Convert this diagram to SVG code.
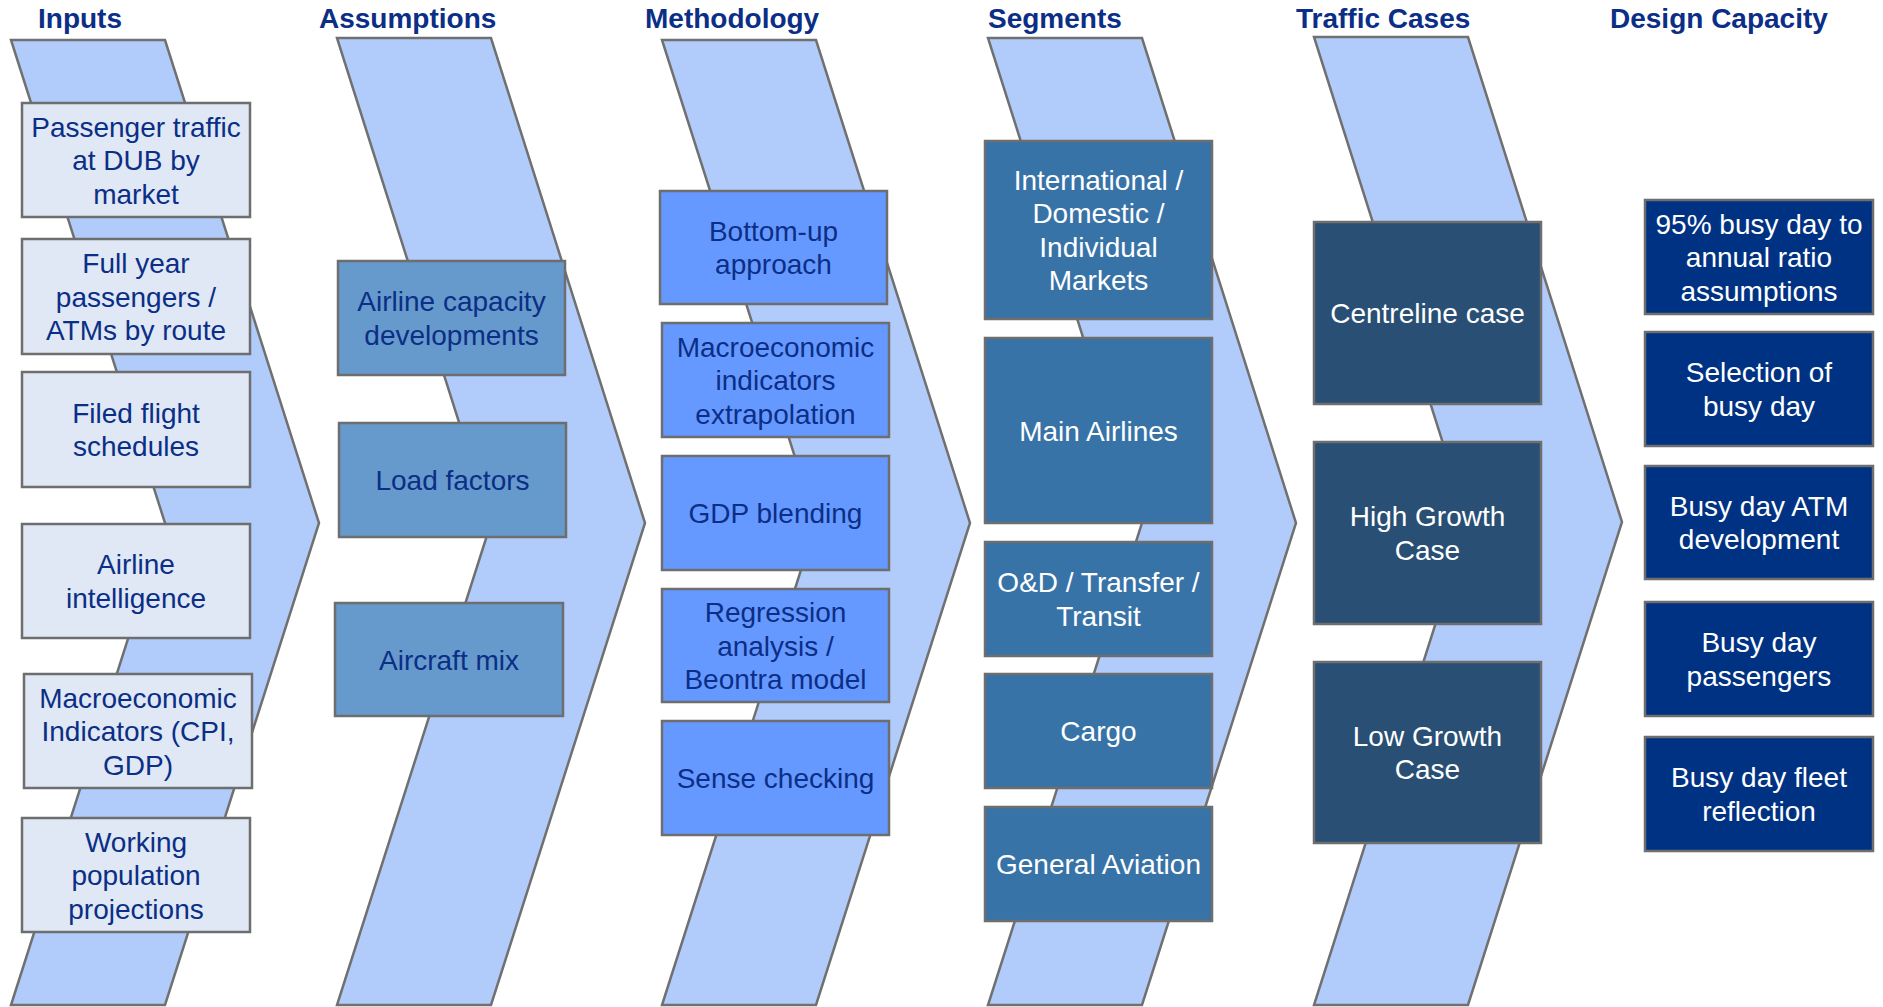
<svg xmlns="http://www.w3.org/2000/svg" width="1883" height="1007" viewBox="0 0 1883 1007">
<style>
.bg{fill:#ffffff}
.chev{fill:#B1CCFB;stroke:#707070;stroke-width:2.5;stroke-linejoin:miter}
.box{stroke:#6E6E6E;stroke-width:2.5}
.inp{fill:#DFE8F4}
.asm{fill:#6699CC}
.met{fill:#6699FF}
.seg{fill:#3873A8}
.trf{fill:#294F75}
.dsg{fill:#003283}
.title{font-family:"Liberation Sans",Arial,sans-serif;font-size:28px;font-weight:bold;fill:#0B2E86}
.t{font-family:"Liberation Sans",Arial,sans-serif;font-size:28px;text-anchor:middle}
.dk{fill:#0B2E86}
.wt{fill:#FFFFFF}
</style>
<rect class="bg" x="0" y="0" width="1883" height="1007"/>
<g id="titles">
<text class="title" x="38" y="28">Inputs</text>
<text class="title" x="319" y="28">Assumptions</text>
<text class="title" x="645" y="28">Methodology</text>
<text class="title" x="988" y="28">Segments</text>
<text class="title" x="1296" y="28">Traffic Cases</text>
<text class="title" x="1610" y="28">Design Capacity</text>
</g>
<g id="chevrons">
<path class="chev" d="M11,40 L165,40 L319,523 L165,1005 L11,1005 L165,523 Z"/>
<path class="chev" d="M337,38 L491,38 L645,523 L491,1005 L337,1005 L491,523 Z"/>
<path class="chev" d="M662,40 L816,40 L970,523 L816,1005 L662,1005 L816,523 Z"/>
<path class="chev" d="M988,38 L1142,38 L1296,523 L1142,1005 L988,1005 L1142,523 Z"/>
<path class="chev" d="M1314,37 L1468,37 L1622,522 L1468,1005 L1314,1005 L1468,522 Z"/>
</g>
<g id="connectors"/>
<g id="in1"><rect class="box inp" x="22" y="103" width="228" height="114"/><text class="t dk"><tspan x="136" y="136.5">Passenger traffic</tspan><tspan x="136" y="170">at DUB by</tspan><tspan x="136" y="203.5">market</tspan></text></g>
<g id="in2"><rect class="box inp" x="22" y="239" width="228" height="115"/><text class="t dk"><tspan x="136" y="273">Full year</tspan><tspan x="136" y="306.5">passengers /</tspan><tspan x="136" y="340">ATMs by route</tspan></text></g>
<g id="in3"><rect class="box inp" x="22" y="372" width="228" height="115"/><text class="t dk"><tspan x="136" y="422.75">Filed flight</tspan><tspan x="136" y="456.25">schedules</tspan></text></g>
<g id="in4"><rect class="box inp" x="22" y="524" width="228" height="114"/><text class="t dk"><tspan x="136" y="574.25">Airline</tspan><tspan x="136" y="607.75">intelligence</tspan></text></g>
<g id="in5"><rect class="box inp" x="24" y="674" width="228" height="114"/><text class="t dk"><tspan x="138" y="707.5">Macroeconomic</tspan><tspan x="138" y="741">Indicators (CPI,</tspan><tspan x="138" y="774.5">GDP)</tspan></text></g>
<g id="in6"><rect class="box inp" x="22" y="818" width="228" height="114"/><text class="t dk"><tspan x="136" y="851.5">Working</tspan><tspan x="136" y="885">population</tspan><tspan x="136" y="918.5">projections</tspan></text></g>
<g id="as1"><rect class="box asm" x="338" y="261" width="227" height="114"/><text class="t dk"><tspan x="451.5" y="311.25">Airline capacity</tspan><tspan x="451.5" y="344.75">developments</tspan></text></g>
<g id="as2"><rect class="box asm" x="339" y="423" width="227" height="114"/><text class="t dk"><tspan x="452.5" y="490">Load factors</tspan></text></g>
<g id="as3"><rect class="box asm" x="335" y="603" width="228" height="113"/><text class="t dk"><tspan x="449" y="669.5">Aircraft mix</tspan></text></g>
<g id="me1"><rect class="box met" x="660" y="191" width="227" height="113"/><text class="t dk"><tspan x="773.5" y="240.75">Bottom-up</tspan><tspan x="773.5" y="274.25">approach</tspan></text></g>
<g id="me2"><rect class="box met" x="662" y="323" width="227" height="114"/><text class="t dk"><tspan x="775.5" y="356.5">Macroeconomic</tspan><tspan x="775.5" y="390">indicators</tspan><tspan x="775.5" y="423.5">extrapolation</tspan></text></g>
<g id="me3"><rect class="box met" x="662" y="456" width="227" height="114"/><text class="t dk"><tspan x="775.5" y="523">GDP blending</tspan></text></g>
<g id="me4"><rect class="box met" x="662" y="589" width="227" height="113"/><text class="t dk"><tspan x="775.5" y="622">Regression</tspan><tspan x="775.5" y="655.5">analysis /</tspan><tspan x="775.5" y="689">Beontra model</tspan></text></g>
<g id="me5"><rect class="box met" x="662" y="721" width="227" height="114"/><text class="t dk"><tspan x="775.5" y="788">Sense checking</tspan></text></g>
<g id="se1"><rect class="box seg" x="985" y="141" width="227" height="178"/><text class="t wt"><tspan x="1098.5" y="189.75">International /</tspan><tspan x="1098.5" y="223.25">Domestic /</tspan><tspan x="1098.5" y="256.75">Individual</tspan><tspan x="1098.5" y="290.25">Markets</tspan></text></g>
<g id="se2"><rect class="box seg" x="985" y="338" width="227" height="185"/><text class="t wt"><tspan x="1098.5" y="440.5">Main Airlines</tspan></text></g>
<g id="se3"><rect class="box seg" x="985" y="542" width="227" height="114"/><text class="t wt"><tspan x="1098.5" y="592.25">O&amp;D / Transfer /</tspan><tspan x="1098.5" y="625.75">Transit</tspan></text></g>
<g id="se4"><rect class="box seg" x="985" y="674" width="227" height="114"/><text class="t wt"><tspan x="1098.5" y="741">Cargo</tspan></text></g>
<g id="se5"><rect class="box seg" x="985" y="807" width="227" height="114"/><text class="t wt"><tspan x="1098.5" y="874">General Aviation</tspan></text></g>
<g id="tr1"><rect class="box trf" x="1314" y="222" width="227" height="182"/><text class="t wt"><tspan x="1427.5" y="323">Centreline case</tspan></text></g>
<g id="tr2"><rect class="box trf" x="1314" y="442" width="227" height="182"/><text class="t wt"><tspan x="1427.5" y="526.25">High Growth</tspan><tspan x="1427.5" y="559.75">Case</tspan></text></g>
<g id="tr3"><rect class="box trf" x="1314" y="662" width="227" height="181"/><text class="t wt"><tspan x="1427.5" y="745.75">Low Growth</tspan><tspan x="1427.5" y="779.25">Case</tspan></text></g>
<g id="de1"><rect class="box dsg" x="1645" y="200" width="228" height="114"/><text class="t wt"><tspan x="1759" y="233.5">95% busy day to</tspan><tspan x="1759" y="267">annual ratio</tspan><tspan x="1759" y="300.5">assumptions</tspan></text></g>
<g id="de2"><rect class="box dsg" x="1645" y="332" width="228" height="114"/><text class="t wt"><tspan x="1759" y="382.25">Selection of</tspan><tspan x="1759" y="415.75">busy day</tspan></text></g>
<g id="de3"><rect class="box dsg" x="1645" y="466" width="228" height="113"/><text class="t wt"><tspan x="1759" y="515.75">Busy day ATM</tspan><tspan x="1759" y="549.25">development</tspan></text></g>
<g id="de4"><rect class="box dsg" x="1645" y="602" width="228" height="114"/><text class="t wt"><tspan x="1759" y="652.25">Busy day</tspan><tspan x="1759" y="685.75">passengers</tspan></text></g>
<g id="de5"><rect class="box dsg" x="1645" y="737" width="228" height="114"/><text class="t wt"><tspan x="1759" y="787.25">Busy day fleet</tspan><tspan x="1759" y="820.75">reflection</tspan></text></g>
</svg>
